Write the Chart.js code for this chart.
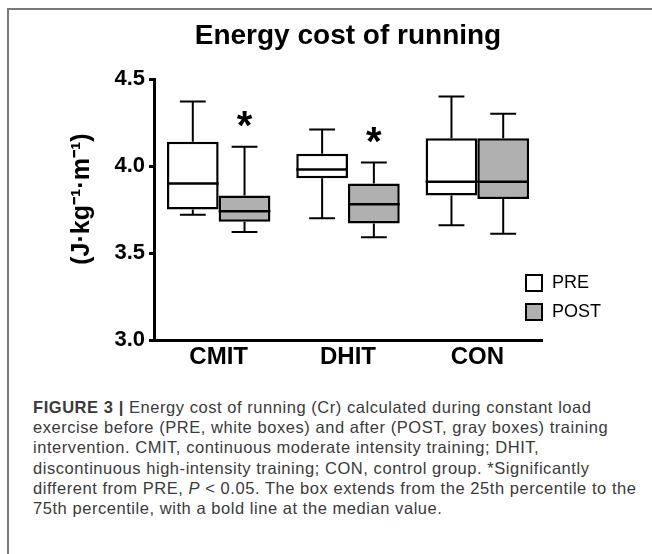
<!DOCTYPE html>
<html>
<head>
<meta charset="utf-8">
<script src="https://cdn.jsdelivr.net/npm/chart.js@4.4.0/dist/chart.umd.min.js"></script>
<style>
  html, body { margin: 0; padding: 0; background: #fff; width: 652px; height: 554px; overflow: hidden; }
  #frame { position: absolute; left: 7px; top: 8px; width: 700px; height: 600px; border-left: 2px solid #7a7a7a; border-top: 2px solid #7a7a7a; }
  #wrap { position: absolute; left: 34px; top: 0; width: 618px; height: 376px; }
  #caption { position: absolute; left: 33px; top: 397px; font-family: 'Liberation Sans', Arial, sans-serif; font-size: 16.5px; letter-spacing: 0.55px; line-height: 20.2px; color: #3a3a3a; white-space: nowrap; }
</style>
</head>
<body>
<div id="frame"></div>
<div id="wrap"><canvas id="myChart"></canvas></div>
<div id="caption">
  <div><b>FIGURE 3 |</b> Energy cost of running (Cr) calculated during constant load</div>
  <div>exercise before (PRE, white boxes) and after (POST, gray boxes) training</div>
  <div>intervention. CMIT, continuous moderate intensity training; DHIT,</div>
  <div>discontinuous high-intensity training; CON, control group. *Significantly</div>
  <div>different from PRE, <i>P</i> &lt; 0.05. The box extends from the 25th percentile to the</div>
  <div>75th percentile, with a bold line at the median value.</div>
</div>
<script>
const categories = ['CMIT', 'DHIT', 'CON'];

const preMin    = [3.72, 3.70, 3.66];
const preQ1     = [3.75, 3.93, 3.83];
const preMedian = [3.90, 3.98, 3.91];
const preQ3     = [4.14, 4.07, 4.16];
const preMax    = [4.37, 4.21, 4.40];

const postMin    = [3.62, 3.59, 3.61];
const postQ1     = [3.68, 3.67, 3.81];
const postMedian = [3.74, 3.78, 3.91];
const postQ3     = [3.83, 3.90, 4.16];
const postMax    = [4.11, 4.02, 4.30];

const postSignificant = [true, true, false];
const yTicks = [3.0, 3.5, 4.0, 4.5];

const FONT = "'Liberation Sans', Arial, sans-serif";

// whiskers, medians and significance stars on top of the floating bars
const boxPlot = {
    id: 'boxPlot',
    afterDatasetsDraw(chart) {
        const ctx = chart.ctx;
        const y = chart.scales.y;
        ctx.save();
        ctx.strokeStyle = '#000';
        ctx.fillStyle = '#000';
        chart.data.datasets.forEach((ds, d) => {
            chart.getDatasetMeta(d).data.forEach((bar, i) => {
                const half = bar.width / 2;
                const cap = bar.width / 4;
                const yQ1 = y.getPixelForValue(ds.data[i][0]);
                const yQ3 = y.getPixelForValue(ds.data[i][1]);
                const yMin = y.getPixelForValue(ds.whiskerMin[i]);
                const yMax = y.getPixelForValue(ds.whiskerMax[i]);
                const yMed = y.getPixelForValue(ds.median[i]);
                ctx.lineWidth = 2;
                ctx.beginPath();
                ctx.moveTo(bar.x, yQ3); ctx.lineTo(bar.x, yMax);
                ctx.moveTo(bar.x - cap, yMax); ctx.lineTo(bar.x + cap, yMax);
                ctx.moveTo(bar.x, yQ1); ctx.lineTo(bar.x, yMin);
                ctx.moveTo(bar.x - cap, yMin); ctx.lineTo(bar.x + cap, yMin);
                ctx.stroke();
                ctx.lineWidth = 2.5;
                ctx.beginPath();
                ctx.moveTo(bar.x - half, yMed); ctx.lineTo(bar.x + half, yMed);
                ctx.stroke();
                if (ds.stars[i]) {
                    ctx.font = 'bold 40px ' + FONT;
                    ctx.textAlign = 'center';
                    ctx.textBaseline = 'alphabetic';
                    ctx.fillText('*', bar.x, yMax - 8);
                }
            });
        });
        ctx.restore();
    }
};

const legendBoxes = {
    id: 'legendBoxes',
    afterDraw(chart) {
        const { ctx, chartArea } = chart;
        ctx.save();
        chart.data.datasets.forEach((ds, d) => {
            const top = chartArea.bottom - 65 + d * 29;
            const left = chartArea.right - 16;
            ctx.fillStyle = ds.backgroundColor;
            ctx.fillRect(left, top, 16, 16);
            ctx.lineWidth = 2;
            ctx.strokeStyle = '#000';
            ctx.strokeRect(left, top, 16, 16);
            ctx.fillStyle = '#000';
            ctx.font = '18px ' + FONT;
            ctx.textAlign = 'left';
            ctx.textBaseline = 'middle';
            ctx.fillText(ds.label, chartArea.right + 10, top + 8);
        });
        ctx.restore();
    }
};

document.addEventListener('DOMContentLoaded', function() {
    const ctx = document.getElementById('myChart').getContext('2d');
    new Chart(ctx, {
        type: 'bar',
        plugins: [boxPlot, legendBoxes],
        data: {
            labels: categories,
            datasets: [{
                label: 'PRE',
                data: preQ1.map((q, i) => [q, preQ3[i]]),
                whiskerMin: preMin,
                whiskerMax: preMax,
                median: preMedian,
                stars: [false, false, false],
                backgroundColor: '#ffffff',
                borderColor: '#000000',
                borderWidth: 2.5,
                borderSkipped: false
            }, {
                label: 'POST',
                data: postQ1.map((q, i) => [q, postQ3[i]]),
                whiskerMin: postMin,
                whiskerMax: postMax,
                median: postMedian,
                stars: postSignificant,
                backgroundColor: '#b0b0b0',
                borderColor: '#000000',
                borderWidth: 2.5,
                borderSkipped: false
            }]
        },
        options: {
            responsive: true,
            maintainAspectRatio: false,
            animation: false,
            categoryPercentage: 0.8,
            barPercentage: 1.0,
            layout: { padding: { left: 0, right: 110, top: 0, bottom: 0 } },
            plugins: {
                legend: { display: false },
                tooltip: { enabled: false },
                title: {
                    display: true,
                    fullSize: false,
                    text: 'Energy cost of running',
                    color: '#000',
                    font: { family: FONT, size: 28, weight: 'bold' },
                    padding: { top: 19, bottom: 26.4 }
                }
            },
            scales: {
                x: {
                    afterFit: s => { s.height = 36; },
                    grid: { display: false, drawTicks: false },
                    border: { display: true, color: '#000', width: 3 },
                    ticks: { color: '#000', padding: 3, font: { family: FONT, size: 24, weight: 'bold' } }
                },
                y: {
                    min: 3.0,
                    max: 4.5,
                    afterFit: s => { s.width = 120; },
                    afterBuildTicks: s => { s.ticks = yTicks.map(v => ({ value: v })); },
                    grid: { drawOnChartArea: false, drawTicks: true, tickLength: 5, color: '#000', lineWidth: 3 },
                    border: { display: true, color: '#000', width: 3 },
                    ticks: {
                        color: '#000',
                        padding: 4,
                        font: { family: FONT, size: 22, weight: 'bold' },
                        callback: v => Number(v).toFixed(1)
                    },
                    title: {
                        display: true,
                        text: '   (J·kg⁻¹·m⁻¹)',
                        color: '#000',
                        font: { family: FONT, size: 25, weight: 'bold' },
                        padding: { top: 33, bottom: 0 }
                    }
                }
            }
        }
    });
});
</script>
</body>
</html>
